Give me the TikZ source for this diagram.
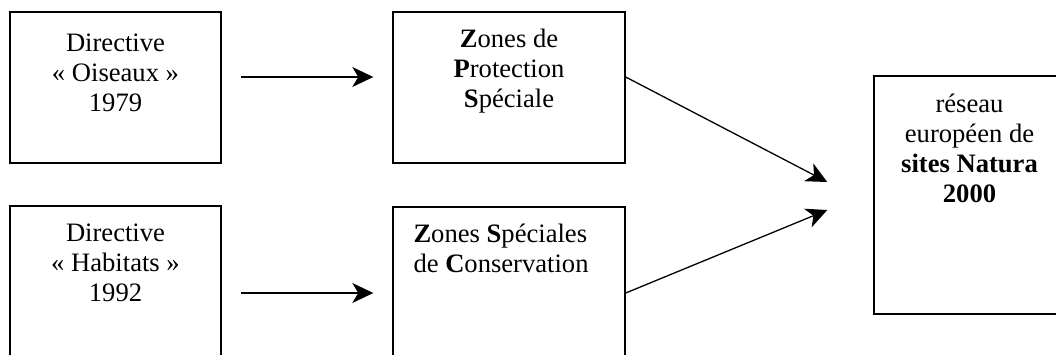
\documentclass[tikz,border=0pt]{standalone}
\usepackage{fontspec}
\setmainfont{Liberation Serif}
\usetikzlibrary{arrows.meta}

\begin{document}
\begin{tikzpicture}[x=1pt, y=-1pt,
    cadre/.style={draw, line width=1.4pt, minimum width=#1, minimum height=151pt, inner sep=0pt},
    texte/.style={inner sep=0pt, font=\fontsize{26.6}{30}\selectfont},
    fleche/.style={line width=1.3pt, -{Stealth[length=21pt, width=20pt, inset=6pt]}}]
        \useasboundingbox (0,0) rectangle (1056,354);
        % les cadres
        \node[cadre=211pt] (ois) at (115.5,87.5) {};
        \node[cadre=211pt] (hab) at (115.5,281.5) {};
        \node[cadre=232pt] (zps) at (509,87.5) {};
        \node[cadre=232pt] (zsc) at (509,282.5) {};
        \node[cadre=191pt, minimum height=238pt] (res) at (969.5,195) {};
        % les textes
        \node[texte, align=center, anchor=north] (oistxt) at ([yshift=-22pt]ois.north)
            {Directive\\«~Oiseaux~»\\1979};
        \node[texte, align=center, anchor=north] (habtxt) at ([yshift=-18pt]hab.north)
            {Directive\\«~Habitats~»\\1992};
        \node[texte, align=center, anchor=north] (zpstxt) at ([yshift=-18pt]zps.north)
            {\textbf{Z}ones de\\\textbf{P}rotection\\\textbf{S}péciale};
        \node[texte, align=left, anchor=north west] (zsctxt) at ([xshift=21pt, yshift=-17pt]zsc.north west)
            {\textbf{Z}ones \textbf{S}péciales\\de \textbf{C}onservation};
        \node[texte, align=center, anchor=north] (restxt) at ([yshift=-18pt]res.north)
            {réseau\\européen de\\\textbf{sites Natura}\\\textbf{2000}};
        % points d'arrivee
        \coordinate (in1) at ([xshift=-46pt, yshift=13pt]res.west);
        \coordinate (in2) at ([xshift=-46pt, yshift=-15pt]res.west);
        % les fleches
        \draw[fleche, shorten <=19pt, shorten >=19pt] ([yshift=10.5pt]ois.east) -- ([yshift=10.5pt]zps.west);
        \draw[fleche, shorten <=19pt, shorten >=19pt] ([yshift=-11.5pt]hab.east) -- ([yshift=-10.5pt]zsc.west);
        \draw[fleche] ([yshift=10.5pt]zps.east) -- (in1);
        \draw[fleche] ([yshift=-10.5pt]zsc.east) -- (in2);
\end{tikzpicture}
\end{document}
